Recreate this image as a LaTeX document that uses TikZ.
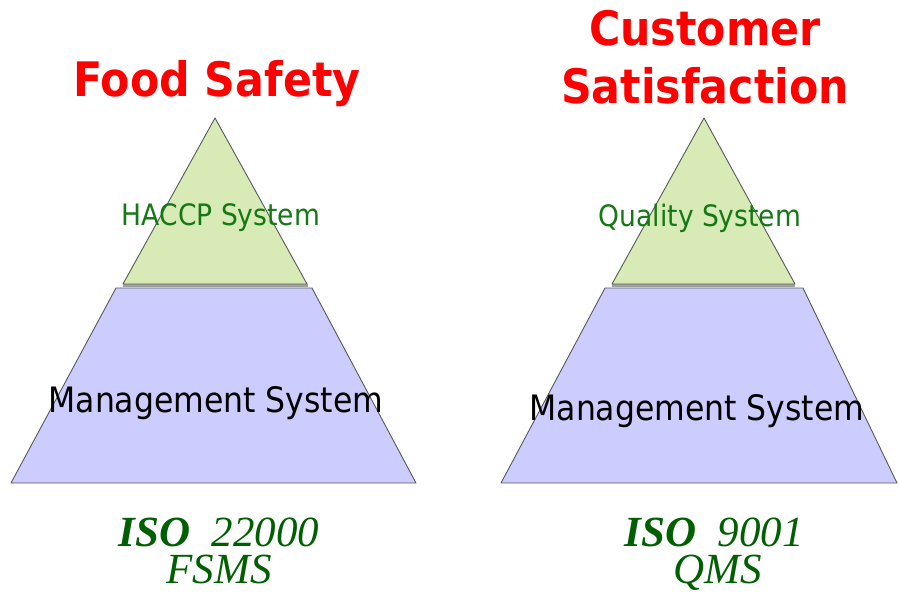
\documentclass[tikz,border=0pt]{standalone}
\usepackage{fontspec}
\setmainfont{Liberation Serif}
\newfontfamily\tahb{DejaVu Sans Condensed}[BoldFont={DejaVu Sans Condensed Bold}]
\newfontfamily\tah{DejaVu Sans Condensed}
\begin{document}
\begin{tikzpicture}[x=1pt,y=-1pt,
  title/.style={text=red,font=\tahb\bfseries\fontsize{47.5}{50}\selectfont,anchor=base,inner sep=0},
  upper/.style={text=labgreen,font=\tah\fontsize{29.5}{31}\selectfont,anchor=base,inner sep=0},
  lower/.style={text=black,font=\tah\fontsize{35}{38}\selectfont,anchor=base,inner sep=0},
  iso/.style={text=isogreen,font=\fontsize{43}{37}\selectfont,align=center,anchor=base,inner sep=0},
  topfill/.style={fill=topgreen,draw=edgegray,line width=0.9pt,line join=round},
  botfill/.style={fill=lavender,draw=edgegray,line width=0.9pt,line join=round},
  band/.style={draw=bandgray,line width=3pt}]
\definecolor{topgreen}{RGB}{216,234,181}
\definecolor{lavender}{RGB}{204,204,255}
\definecolor{edgegray}{RGB}{90,90,90}
\definecolor{bandgray}{RGB}{160,160,160}
\definecolor{labgreen}{RGB}{20,120,20}
\definecolor{isogreen}{RGB}{0,95,0}
\useasboundingbox (0,0) rectangle (899,594);
% left pyramid
\draw[botfill] (116,288) -- (312,288) -- (416,483) -- (11,483) -- cycle;
\draw[band] (123,285.5) -- (308,285.5);
\draw[topfill] (215,118) -- (307,284) -- (123,284) -- cycle;
% right pyramid
\draw[botfill] (605,288) -- (803,288) -- (897,483) -- (501,483) -- cycle;
\draw[band] (612,285.5) -- (795,285.5);
\draw[topfill] (704,118) -- (795,284) -- (612,284) -- cycle;
% titles
\node[title] (t1) at (217,96) {Food Safety};
\node[title] (t2) at (705,46) {Customer};
\node[title] (t3) at (705,103) {Satisfaction};
% labels
\node[upper] (h) at (221,225) {HACCP System};
\node[upper] (q) at (700,226) {Quality System};
\node[lower] (m1) at (216,412) {Management System};
\node[lower] (m2) at (697,420) {Management System};
% standards
\node[iso] (s1) at (219,583) {\textbf{\textit{ISO}}\hspace{0.5em}\textit{22000}\\\textit{FSMS}\hspace{2pt}};
\node[iso] (s2) at (714,583) {\textbf{\textit{ISO}}\hspace{0.5em}\textit{9001}\\\hspace{8pt}\textit{QMS}};
\end{tikzpicture}
\end{document}
